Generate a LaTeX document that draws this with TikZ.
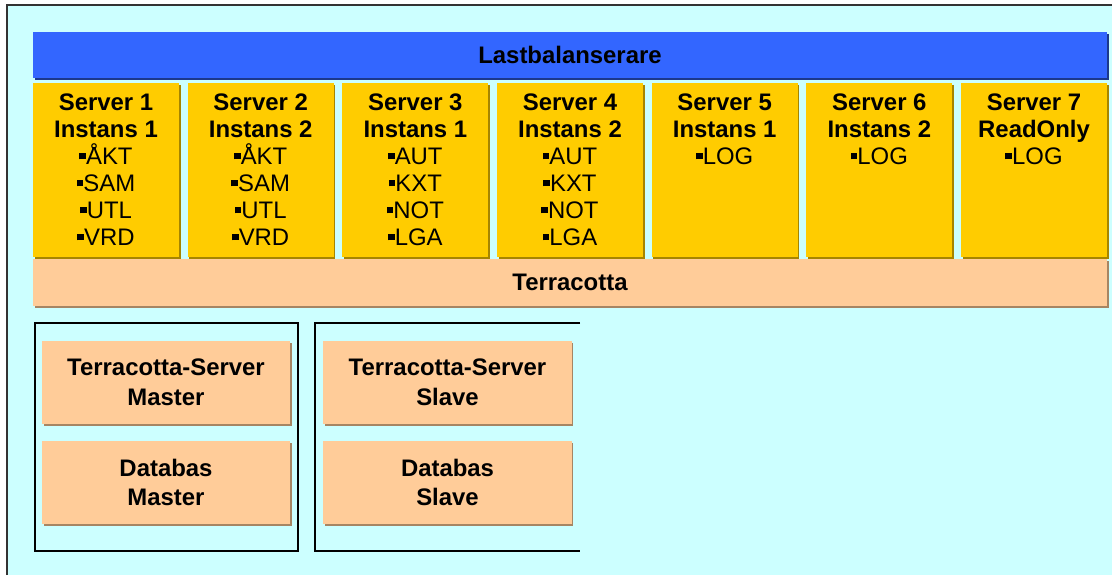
\documentclass[tikz,border=0pt]{standalone}
\usepackage{fontspec}
\setmainfont{Liberation Sans}
\usetikzlibrary{shadows}
\definecolor{bgcyan}{HTML}{CCFFFF}
\definecolor{lbblue}{HTML}{3366FF}
\definecolor{srvgold}{HTML}{FFCC00}
\definecolor{tcpeach}{HTML}{FFCC99}
\newcommand\sq{\rule[0.2em]{0.28em}{0.28em}}
\newcommand\itm[1]{{\mdseries\sq#1}}
\tikzset{
  bar/.style={rectangle, inner sep=0pt, minimum width=26.85cm,
    font=\fontsize{17}{19}\selectfont\bfseries},
  srv/.style={rectangle, inner sep=0pt, fill=srvgold,
    minimum width=3.65cm, minimum height=4.35cm,
    drop shadow={shadow xshift=1.2pt, shadow yshift=-1.2pt, opacity=1, fill=srvgold!65!black},
    label={[srvtxt]north:{#1}}},
  srvtxt/.style={anchor=north, align=center, inner sep=0pt, yshift=-7.5pt,
    font=\fontsize{17}{19.2}\selectfont\bfseries},
  tcs/.style={rectangle, inner sep=0pt, fill=tcpeach, align=center,
    minimum width=6.2cm, minimum height=2.075cm,
    drop shadow={shadow xshift=1.2pt, shadow yshift=-1.2pt, opacity=1, fill=tcpeach!65!black},
    font=\fontsize{17}{21}\selectfont\bfseries},
  grp/.style={draw=black, line width=1.1pt},
}
\begin{document}
\begin{tikzpicture}[x=0.025cm, y=-0.025cm]
  \useasboundingbox (0,0) rectangle (1112,575);
  \fill[white] (0,0) rectangle (1112,575);
  \fill[bgcyan] (7,5) rectangle (1112,575);
  \draw[line width=1.1pt, black!80] (7,575) -- (7,5) -- (1112,5);
  % lastbalanserare
  \node[bar, fill=lbblue, minimum height=1.15cm,
    drop shadow={shadow xshift=1.2pt, shadow yshift=-1.2pt, opacity=1, fill=lbblue!55!black}]
    (lb) at (570,55) {Lastbalanserare};
  % servrar
  \node[srv={Server 1\\Instans 1\\\itm{ÅKT}\\\itm{SAM}\\\itm{UTL}\\\itm{VRD}}] (s1) at (106,170) {};
  \node[srv={Server 2\\Instans 2\\\itm{ÅKT}\\\itm{SAM}\\\itm{UTL}\\\itm{VRD}}] (s2) at (260.67,170) {};
  \node[srv={Server 3\\Instans 1\\\itm{AUT}\\\itm{KXT}\\\itm{NOT}\\\itm{LGA}}] (s3) at (415.33,170) {};
  \node[srv={Server 4\\Instans 2\\\itm{AUT}\\\itm{KXT}\\\itm{NOT}\\\itm{LGA}}] (s4) at (570,170) {};
  \node[srv={Server 5\\Instans 1\\\itm{LOG}}] (s5) at (724.67,170) {};
  \node[srv={Server 6\\Instans 2\\\itm{LOG}}] (s6) at (879.33,170) {};
  \node[srv={Server 7\\ReadOnly\\\itm{LOG}}] (s7) at (1034,170) {};
  % terracotta
  \node[bar, fill=tcpeach, minimum height=1.175cm,
    drop shadow={shadow xshift=1.2pt, shadow yshift=-1.2pt, opacity=1, fill=tcpeach!65!black}]
    (tc) at (570,282.5) {Terracotta};
  % master och slave
  \draw[grp] (35,323) rectangle (298,551);
  \draw[grp] (580,323) -- (315,323) -- (315,551) -- (580,551);
  \node[tcs] (tsm) at (166,382.5) {Terracotta-Server\\Master};
  \node[tcs] (dbm) at (166,482.5) {Databas\\Master};
  \node[tcs] (tss) at (447.5,382.5) {Terracotta-Server\\Slave};
  \node[tcs] (dbs) at (447.5,482.5) {Databas\\Slave};
\end{tikzpicture}
\end{document}
